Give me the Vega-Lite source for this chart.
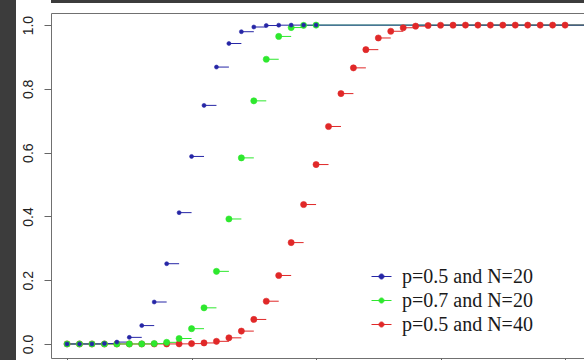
{
  "$schema": "https://vega.github.io/schema/vega-lite/v6.json",
  "padding": 0,
  "background": "white",
  "spacing": 0,
  "config": {
    "concat": {"spacing": 0},
    "legend": {
      "orient": "none",
      "legendX": 371,
      "legendY": 266,
      "symbolType": "M-1,0L1,0M-0.25,0A0.25,0.25,0,1,1,0.25,0A0.25,0.25,0,1,1,-0.25,0Z",
      "symbolSize": 400,
      "symbolStrokeWidth": 1,
      "labelFont": "Liberation Serif",
      "labelFontSize": 20,
      "labelColor": "#1a1a1a",
      "labelOffset": 10,
      "rowPadding": 3,
      "labelLimit": 300
    }
  },
  "datasets": {
    "cdf": [
      {"s": "p=0.5 and N=40", "k": 0, "k2": 1, "p": 0},
      {"s": "p=0.5 and N=40", "k": 1, "k2": 2, "p": 0},
      {"s": "p=0.5 and N=40", "k": 2, "k2": 3, "p": 0},
      {"s": "p=0.5 and N=40", "k": 3, "k2": 4, "p": 0},
      {"s": "p=0.5 and N=40", "k": 4, "k2": 5, "p": 0},
      {"s": "p=0.5 and N=40", "k": 5, "k2": 6, "p": 0.000001},
      {"s": "p=0.5 and N=40", "k": 6, "k2": 7, "p": 0.000004},
      {"s": "p=0.5 and N=40", "k": 7, "k2": 8, "p": 0.000021},
      {"s": "p=0.5 and N=40", "k": 8, "k2": 9, "p": 0.000091},
      {"s": "p=0.5 and N=40", "k": 9, "k2": 10, "p": 0.00034},
      {"s": "p=0.5 and N=40", "k": 10, "k2": 11, "p": 0.00111},
      {"s": "p=0.5 and N=40", "k": 11, "k2": 12, "p": 0.00321},
      {"s": "p=0.5 and N=40", "k": 12, "k2": 13, "p": 0.00829},
      {"s": "p=0.5 and N=40", "k": 13, "k2": 14, "p": 0.01924},
      {"s": "p=0.5 and N=40", "k": 14, "k2": 15, "p": 0.04035},
      {"s": "p=0.5 and N=40", "k": 15, "k2": 16, "p": 0.07693},
      {"s": "p=0.5 and N=40", "k": 16, "k2": 17, "p": 0.13409},
      {"s": "p=0.5 and N=40", "k": 17, "k2": 18, "p": 0.2148},
      {"s": "p=0.5 and N=40", "k": 18, "k2": 19, "p": 0.31791},
      {"s": "p=0.5 and N=40", "k": 19, "k2": 20, "p": 0.43731},
      {"s": "p=0.5 and N=40", "k": 20, "k2": 21, "p": 0.56269},
      {"s": "p=0.5 and N=40", "k": 21, "k2": 22, "p": 0.68209},
      {"s": "p=0.5 and N=40", "k": 22, "k2": 23, "p": 0.7852},
      {"s": "p=0.5 and N=40", "k": 23, "k2": 24, "p": 0.86591},
      {"s": "p=0.5 and N=40", "k": 24, "k2": 25, "p": 0.92307},
      {"s": "p=0.5 and N=40", "k": 25, "k2": 26, "p": 0.95965},
      {"s": "p=0.5 and N=40", "k": 26, "k2": 27, "p": 0.98076},
      {"s": "p=0.5 and N=40", "k": 27, "k2": 28, "p": 0.99171},
      {"s": "p=0.5 and N=40", "k": 28, "k2": 29, "p": 0.99679},
      {"s": "p=0.5 and N=40", "k": 29, "k2": 30, "p": 0.99889},
      {"s": "p=0.5 and N=40", "k": 30, "k2": 31, "p": 0.99966},
      {"s": "p=0.5 and N=40", "k": 31, "k2": 32, "p": 0.99991},
      {"s": "p=0.5 and N=40", "k": 32, "k2": 33, "p": 0.99998},
      {"s": "p=0.5 and N=40", "k": 33, "k2": 34, "p": 1},
      {"s": "p=0.5 and N=40", "k": 34, "k2": 35, "p": 1},
      {"s": "p=0.5 and N=40", "k": 35, "k2": 36, "p": 1},
      {"s": "p=0.5 and N=40", "k": 36, "k2": 37, "p": 1},
      {"s": "p=0.5 and N=40", "k": 37, "k2": 38, "p": 1},
      {"s": "p=0.5 and N=40", "k": 38, "k2": 39, "p": 1},
      {"s": "p=0.5 and N=40", "k": 39, "k2": 40, "p": 1},
      {"s": "p=0.5 and N=40", "k": 40, "k2": 42, "p": 1},
      {"s": "p=0.7 and N=20", "k": 0, "k2": 1, "p": 0},
      {"s": "p=0.7 and N=20", "k": 1, "k2": 2, "p": 0},
      {"s": "p=0.7 and N=20", "k": 2, "k2": 3, "p": 0},
      {"s": "p=0.7 and N=20", "k": 3, "k2": 4, "p": 0.000001},
      {"s": "p=0.7 and N=20", "k": 4, "k2": 5, "p": 0.000006},
      {"s": "p=0.7 and N=20", "k": 5, "k2": 6, "p": 0.000043},
      {"s": "p=0.7 and N=20", "k": 6, "k2": 7, "p": 0.00026},
      {"s": "p=0.7 and N=20", "k": 7, "k2": 8, "p": 0.00128},
      {"s": "p=0.7 and N=20", "k": 8, "k2": 9, "p": 0.00514},
      {"s": "p=0.7 and N=20", "k": 9, "k2": 10, "p": 0.01714},
      {"s": "p=0.7 and N=20", "k": 10, "k2": 11, "p": 0.04796},
      {"s": "p=0.7 and N=20", "k": 11, "k2": 12, "p": 0.11333},
      {"s": "p=0.7 and N=20", "k": 12, "k2": 13, "p": 0.22773},
      {"s": "p=0.7 and N=20", "k": 13, "k2": 14, "p": 0.39199},
      {"s": "p=0.7 and N=20", "k": 14, "k2": 15, "p": 0.58363},
      {"s": "p=0.7 and N=20", "k": 15, "k2": 16, "p": 0.76249},
      {"s": "p=0.7 and N=20", "k": 16, "k2": 17, "p": 0.89291},
      {"s": "p=0.7 and N=20", "k": 17, "k2": 18, "p": 0.96452},
      {"s": "p=0.7 and N=20", "k": 18, "k2": 19, "p": 0.99236},
      {"s": "p=0.7 and N=20", "k": 19, "k2": 20, "p": 0.9992},
      {"s": "p=0.7 and N=20", "k": 20, "k2": 42, "p": 1},
      {"s": "p=0.5 and N=20", "k": 0, "k2": 1, "p": 0.000001},
      {"s": "p=0.5 and N=20", "k": 1, "k2": 2, "p": 0.00002},
      {"s": "p=0.5 and N=20", "k": 2, "k2": 3, "p": 0.0002},
      {"s": "p=0.5 and N=20", "k": 3, "k2": 4, "p": 0.00129},
      {"s": "p=0.5 and N=20", "k": 4, "k2": 5, "p": 0.00591},
      {"s": "p=0.5 and N=20", "k": 5, "k2": 6, "p": 0.0207},
      {"s": "p=0.5 and N=20", "k": 6, "k2": 7, "p": 0.05766},
      {"s": "p=0.5 and N=20", "k": 7, "k2": 8, "p": 0.13159},
      {"s": "p=0.5 and N=20", "k": 8, "k2": 9, "p": 0.25172},
      {"s": "p=0.5 and N=20", "k": 9, "k2": 10, "p": 0.4119},
      {"s": "p=0.5 and N=20", "k": 10, "k2": 11, "p": 0.5881},
      {"s": "p=0.5 and N=20", "k": 11, "k2": 12, "p": 0.74828},
      {"s": "p=0.5 and N=20", "k": 12, "k2": 13, "p": 0.86841},
      {"s": "p=0.5 and N=20", "k": 13, "k2": 14, "p": 0.94234},
      {"s": "p=0.5 and N=20", "k": 14, "k2": 15, "p": 0.97931},
      {"s": "p=0.5 and N=20", "k": 15, "k2": 16, "p": 0.99409},
      {"s": "p=0.5 and N=20", "k": 16, "k2": 17, "p": 0.99871},
      {"s": "p=0.5 and N=20", "k": 17, "k2": 18, "p": 0.9998},
      {"s": "p=0.5 and N=20", "k": 18, "k2": 19, "p": 0.99998},
      {"s": "p=0.5 and N=20", "k": 19, "k2": 20, "p": 1},
      {"s": "p=0.5 and N=20", "k": 20, "k2": 42, "p": 1}
    ]
  },
  "hconcat": [
    {
      "width": 16,
      "height": 364,
      "view": {"fill": "#3c3c3c", "stroke": null},
      "data": {"values": []},
      "mark": "point",
      "encoding": {}
    },
    {
      "spacing": 9,
      "vconcat": [
        {
          "width": 568,
          "height": 3,
          "view": {"fill": "#3c3c3c", "stroke": null},
          "data": {"values": []},
          "mark": "point",
          "encoding": {}
        },
        {
          "width": 534,
          "height": 345,
          "view": {"fill": "white", "stroke": "#707070", "strokeWidth": 1},
          "data": {"name": "cdf"},
          "encoding": {
            "x": {
              "field": "k",
              "type": "quantitative",
              "scale": {"domain": [-1.29, 41.6], "nice": false, "zero": false},
              "axis": {
                "values": [0, 10, 20, 30, 40],
                "labels": false,
                "domain": false,
                "grid": false,
                "tickSize": 7,
                "tickColor": "#666",
                "title": null
              }
            },
            "y": {
              "field": "p",
              "type": "quantitative",
              "scale": {"domain": [-0.044, 1.038], "nice": false, "zero": false},
              "axis": {
                "values": [0, 0.2, 0.4, 0.6, 0.8, 1],
                "format": ".1f",
                "labelAngle": 270,
                "labelAlign": "center",
                "labelBaseline": "alphabetic",
                "labelPadding": 12,
                "labelFont": "Liberation Sans",
                "labelFontSize": 14,
                "labelColor": "#222",
                "tickSize": 7,
                "tickColor": "#666",
                "domain": false,
                "grid": false,
                "title": null,
                "minExtent": 34,
                "maxExtent": 34
              }
            },
            "fill": {
              "field": "s",
              "type": "nominal",
              "title": null,
              "scale": {
                "domain": ["p=0.5 and N=20", "p=0.7 and N=20", "p=0.5 and N=40"],
                "range": ["#2626a6", "#2ee82e", "#e02828"]
              }
            },
            "stroke": {
              "field": "s",
              "type": "nominal",
              "title": null,
              "scale": {
                "domain": ["p=0.5 and N=20", "p=0.7 and N=20", "p=0.5 and N=40"],
                "range": ["#2626a6", "#2ee82e", "#e02828"]
              }
            }
          },
          "layer": [
            {
              "mark": {"type": "rule", "strokeWidth": 1, "clip": true},
              "encoding": {
                "x2": {"field": "k2"},
                "fill": {"value": null}
              }
            },
            {
              "transform": [{"filter": "datum.s !== 'p=0.5 and N=20'"}],
              "mark": {"type": "circle", "opacity": 1, "size": 38, "strokeWidth": 0.6}
            },
            {
              "transform": [{"filter": "datum.s === 'p=0.5 and N=20'"}],
              "mark": {"type": "circle", "opacity": 1, "size": 16, "strokeWidth": 0.6}
            }
          ]
        }
      ]
    }
  ]
}
